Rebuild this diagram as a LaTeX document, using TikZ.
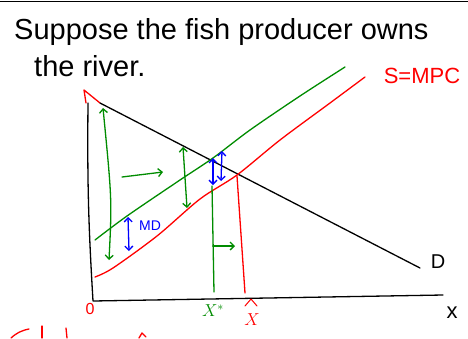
\documentclass[tikz,border=0pt]{standalone}
\usepackage{fontspec}
\setmainfont{Liberation Sans}
\usetikzlibrary{arrows.meta}
\begin{document}
\begin{tikzpicture}[x=1pt,y=-1pt,
  pen/.style={line width=1.3pt,line cap=round,line join=round},
  blk/.style={pen,draw=black},
  grn/.style={pen,draw=green!55!black},
  rd/.style={pen,draw=red},
  bl/.style={pen,draw=blue},
  dbl/.style={{Straight Barb[length=4pt,width=8pt]}-{Straight Barb[length=4pt,width=8pt]}},
  sgl/.style={-{Straight Barb[length=4pt,width=8pt]}},
  lbl/.style={inner sep=0pt,anchor=center}]
\useasboundingbox (0,0) rectangle (468,338);
\fill[white] (0,0) rectangle (468,338);
% top border
\coordinate (tl) at (0,1); \coordinate (tr) at (468,1);
\draw[black,line width=1pt] (tl) -- (tr);
% title
\node[lbl,anchor=west] (t1) at (14,32) {\fontsize{29}{32}\selectfont Suppose the fish producer owns};
\node[lbl,anchor=west] (t2) at (34,66) {\fontsize{29}{32}\selectfont the river.};
\node[lbl,red] (smpc) at (422,76) {\fontsize{22}{26}\selectfont S=MPC};
% axes
\coordinate (ytop) at (88,103);
\coordinate (org) at (93,301);
\coordinate (xend) at (443,295);
\draw[blk] (ytop) to[bend right=2] (org) -- (xend);
% red tick at top
\coordinate (r1) at (86,103); \coordinate (r2) at (84,90); \coordinate (dtop) at (100,103);
\draw[rd] (r1) -- (r2) -- (dtop);
% demand
\coordinate (dend) at (420,268);
\draw[blk] (dtop) -- (dend);
\node[lbl] (D) at (438,262) {\fontsize{20}{24}\selectfont D};
\node[lbl] (xl) at (452,313) {\fontsize{22}{26}\selectfont x};
% red S = MPC curve
\draw[rd] plot[smooth,tension=0.5] coordinates {(95,277) (113,268) (157,236) (200,199) (237,175) (280,140) (330,103) (365,77)};
% green MSC curve
\draw[grn] plot[smooth,tension=0.5] coordinates {(95,240) (127,216) (180,180) (213,158) (250,130) (300,96) (345,67)};
% green arrows
\coordinate (g1a) at (103,108); \coordinate (g1m) at (112,200); \coordinate (g1b) at (109,260);
\draw[grn,dbl] (g1a) .. controls (g1m) .. (g1b);
\coordinate (g2a) at (122,177); \coordinate (g2b) at (163,172);
\draw[grn,sgl] (g2a) -- (g2b);
\coordinate (g3a) at (183,147); \coordinate (g3b) at (187,208);
\draw[grn,dbl] (g3a) -- (g3b);
% blue arrows
\coordinate (b1a) at (213,158); \coordinate (b1b) at (213,185);
\draw[bl,dbl] (b1a) -- (b1b);
\coordinate (b2a) at (222,151); \coordinate (b2b) at (221,181);
\draw[bl,dbl] (b2a) -- (b2b);
\coordinate (mda) at (128,217); \coordinate (mdb) at (129,251);
\draw[bl,dbl] (mda) -- (mdb);
\node[lbl,blue] (MD) at (150,226) {\fontsize{14}{16}\selectfont MD};
% X* line
\coordinate (xsa) at (212,186); \coordinate (xsb) at (214,292);
\draw[grn] (xsa) -- (xsb);
\coordinate (g4a) at (213,246); \coordinate (g4b) at (235,246);
\draw[grn,sgl] (g4a) -- (g4b);
% X hat line
\coordinate (xha) at (237,176); \coordinate (xhb) at (245,293);
\draw[rd] (xha) -- (xhb);
% axis labels
\node[lbl,red] (zero) at (90,309) {\fontsize{16}{18}\selectfont 0};
\node[lbl,green!55!black] (Xs) at (213,311) {\fontsize{18}{22}\selectfont $X^{*}$};
\node[lbl,red] (Xh) at (252,320) {\fontsize{18}{22}\selectfont $X$};
\coordinate (h1) at (245,306); \coordinate (h2) at (251,299); \coordinate (h3) at (257,306);
\draw[rd,line width=1pt] (h1) -- (h2) -- (h3);
% partial red strokes at bottom edge
\coordinate (p1) at (11,338); \coordinate (p2) at (29,329);
\draw[rd] (p1) to[bend left=15] (p2);
\coordinate (p3) at (42,326); \coordinate (p4) at (42,338);
\draw[rd] (p3) -- (p4);
\coordinate (p5) at (66,328); \coordinate (p6) at (67,338);
\draw[rd] (p5) -- (p6);
\coordinate (p7) at (139,338); \coordinate (p8) at (142,333); \coordinate (p9) at (146,337);
\draw[rd] (p7) -- (p8) -- (p9);
\end{tikzpicture}
\end{document}
